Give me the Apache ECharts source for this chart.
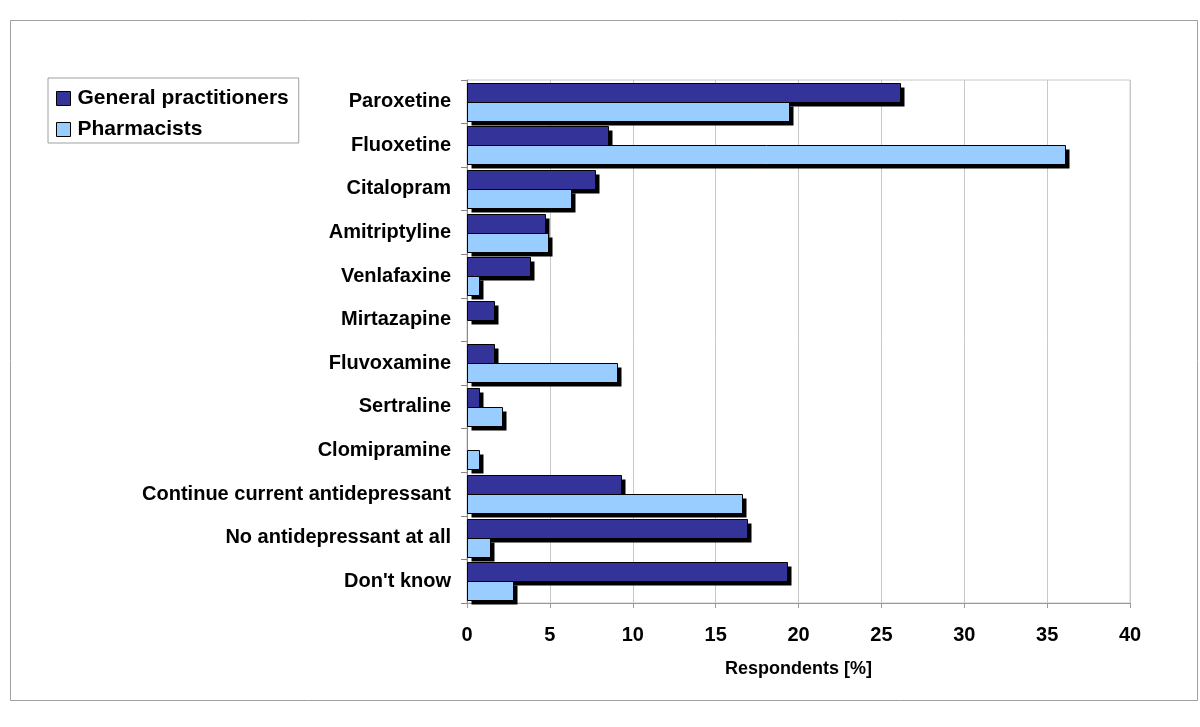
<!DOCTYPE html>
<html><head><meta charset="utf-8">
<script src="https://cdn.jsdelivr.net/npm/echarts@6/dist/echarts.min.js"></script>
<style>html,body{margin:0;padding:0;background:#fff}#c{width:1200px;height:727px}</style>
</head><body><div id="c"></div>
<script>
const categories = ["Paroxetine","Fluoxetine","Citalopram","Amitriptyline","Venlafaxine","Mirtazapine","Fluvoxamine","Sertraline","Clomipramine","Continue current antidepressant","No antidepressant at all","Don't know"];
const generalPractitioners = [26.1, 8.5, 7.7, 4.7, 3.8, 1.6, 1.6, 0.7, 0, 9.3, 16.9, 19.3];
const pharmacists = [19.4, 36.1, 6.3, 4.9, 0.7, 0, 9.05, 2.1, 0.7, 16.6, 1.4, 2.8];
const xTicks = [0, 5, 10, 15, 20, 25, 30, 35, 40];

const chart = echarts.init(document.getElementById('c'), null, {renderer: 'canvas'});
const font = 'Liberation Sans, Arial, sans-serif';
const colors = ['#333399', '#99CCFF'];

function makeRender(seriesIdx) {
  return function (params, api) {
    const v = api.value(0);
    const i = api.value(1);
    if (!v) return null;
    const p0 = api.coord([0, i]);
    const p1 = api.coord([v, i]);
    const band = api.size([0, 1])[1];
    const h = Math.round(band * 0.44);
    const cy = Math.round(p0[1]);
    const top = seriesIdx === 0 ? cy - h : cy;
    const x0 = Math.round(p0[0]) + 0.5;
    const w = Math.round(p1[0] - p0[0]);
    return {
      type: 'group',
      children: [
        {type: 'rect', shape: {x: x0 + 4, y: top + 4.5, width: w, height: h}, style: {fill: '#000'}},
        {type: 'rect', shape: {x: x0, y: top + 0.5, width: w, height: h}, style: {fill: colors[seriesIdx], stroke: '#000', lineWidth: 1}}
      ]
    };
  };
}

chart.setOption({
  backgroundColor: '#fff',
  animation: false,
  graphic: [{
    type: 'rect', left: 8, top: 18, shape: {width: 1187, height: 680},
    style: {fill: 'none', stroke: '#a0a0a0', lineWidth: 1}, silent: true
  }],
  legend: {
    orient: 'vertical', left: 48, top: 78,
    padding: [10, 10, 3, 8],
    itemGap: 10,
    itemWidth: 14, itemHeight: 14,
    borderColor: '#a0a0a0', borderWidth: 1,
    icon: 'rect',
    textStyle: {fontFamily: font, fontWeight: 'bold', fontSize: 21, color: '#000', padding: [0, 0, 0, 2]},
    data: [
      {name: 'General practitioners', itemStyle: {color: colors[0], borderColor: '#000', borderWidth: 1}},
      {name: 'Pharmacists', itemStyle: {color: colors[1], borderColor: '#000', borderWidth: 1}}
    ]
  },
  grid: {left: 467, right: 70, top: 80, bottom: 124, show: true, borderColor: '#c8c8c8', borderWidth: 1, containLabel: false},
  xAxis: {
    type: 'value', min: xTicks[0], max: xTicks[xTicks.length - 1], interval: 5,
    name: 'Respondents [%]', nameLocation: 'middle', nameGap: 57,
    nameTextStyle: {fontFamily: font, fontWeight: 'bold', fontSize: 18, color: '#000'},
    axisLine: {show: true, lineStyle: {color: '#999'}},
    axisTick: {show: true, length: 5, lineStyle: {color: '#999'}},
    axisLabel: {fontFamily: font, fontWeight: 'bold', fontSize: 20, color: '#000', margin: 22},
    splitLine: {show: true, lineStyle: {color: '#c8c8c8'}}
  },
  yAxis: {
    type: 'category', data: categories, inverse: true,
    axisLine: {show: true, lineStyle: {color: '#888'}},
    axisTick: {show: true, length: 6, lineStyle: {color: '#888'}},
    axisLabel: {fontFamily: font, fontWeight: 'bold', fontSize: 20, color: '#000', margin: 16},
    splitLine: {show: false}
  },
  series: [
    {name: 'General practitioners', type: 'custom', renderItem: makeRender(0),
     itemStyle: {color: colors[0]}, encode: {x: 0, y: 1},
     data: generalPractitioners.map((v, i) => [v, i])},
    {name: 'Pharmacists', type: 'custom', renderItem: makeRender(1),
     itemStyle: {color: colors[1]}, encode: {x: 0, y: 1},
     data: pharmacists.map((v, i) => [v, i])}
  ]
});
</script></body></html>
